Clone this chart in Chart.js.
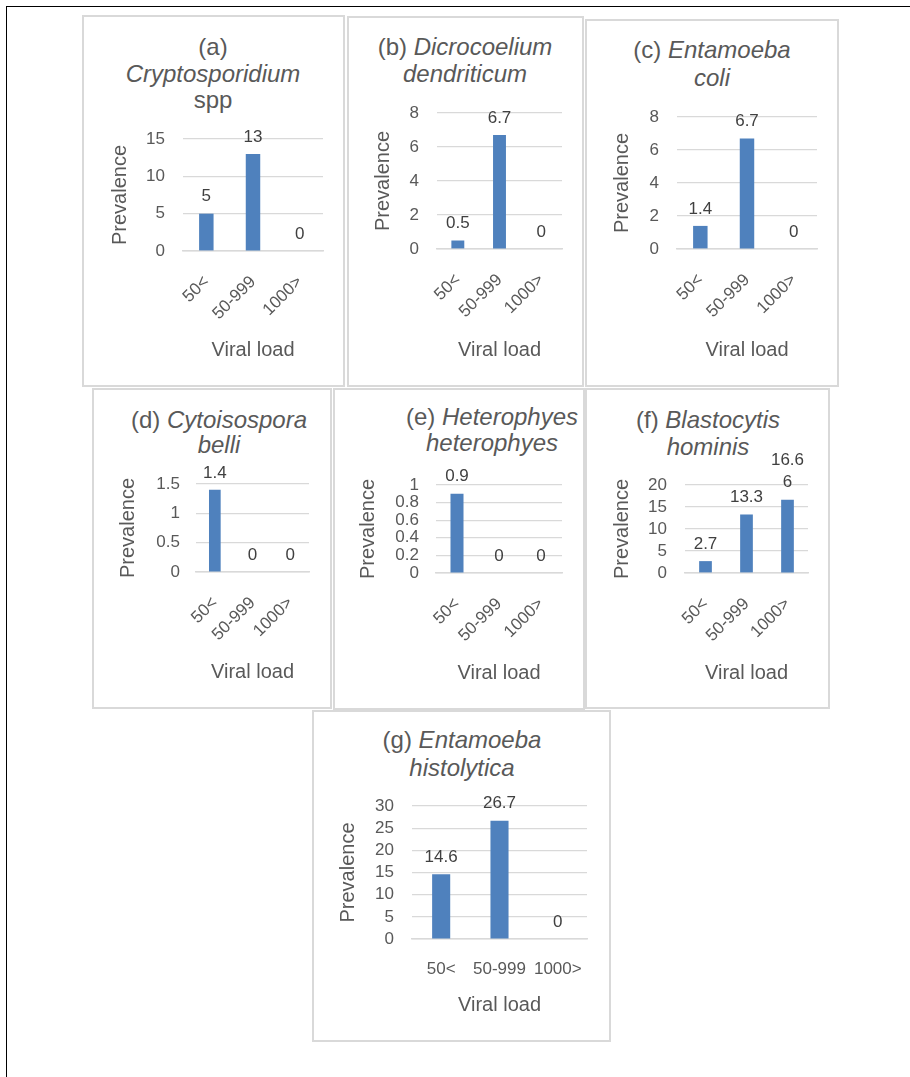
<!DOCTYPE html>
<html><head><meta charset="utf-8">
<script src="https://cdn.jsdelivr.net/npm/chart.js@4"></script>
<style>
html,body{margin:0;padding:0;background:#fff;width:910px;height:1077px;overflow:hidden;font-family:'Liberation Sans',Arial,sans-serif;}
.frame{position:absolute;left:6px;top:6px;width:950px;height:1100px;border-left:1.5px solid #000;border-top:1.5px solid #000;}
.box{position:absolute;border:2px solid #d9d9d9;box-sizing:border-box;}
.t{position:absolute;transform:translate(-50%,-50%);white-space:nowrap;color:#595959;font-size:24px;line-height:1;}
canvas{position:absolute;}
</style></head><body>
<div class="frame"></div>
<script>
// ---- data ----
const categories = ['50<', '50-999', '1000>'];
const cryptosporidiumValues = [5, 13, 0];
const dicrocoeliumValues = [0.5, 6.7, 0];
const entamoebaColiValues = [1.4, 6.7, 0];
const cytoisosporaValues = [1.4, 0, 0];
const heterophyesValues = [0.9, 0, 0];
const blastocystisValues = [2.7, 13.3, 16.66];
const histolyticaValues = [14.6, 26.7, 0];
const yMaxes = [15, 8, 8, 1.5, 1, 20, 30];
const yStepSizes = [5, 2, 2, 0.5, 0.2, 5, 5];
const yAxisTitle = 'Prevalence';
const xAxisTitle = 'Viral load';
const titleLines = [
  [[['(a)', 0]], [['Cryptosporidium', 1]], [['spp', 0]]],
  [[['(b) ', 0], ['Dicrocoelium', 1]], [['dendriticum', 1]]],
  [[['(c) ', 0], ['Entamoeba', 1]], [['coli', 1]]],
  [[['(d) ', 0], ['Cytoisospora', 1]], [['belli', 1]]],
  [[['(e) ', 0], ['Heterophyes', 1]], [['heterophyes', 1]]],
  [[['(f) ', 0], ['Blastocytis', 1]], [['hominis', 1]]],
  [[['(g) ', 0], ['Entamoeba', 1]], [['histolytica', 1]]]
];
const seriesList = [cryptosporidiumValues, dicrocoeliumValues, entamoebaColiValues,
  cytoisosporaValues, heterophyesValues, blastocystisValues, histolyticaValues];

// ---- layout (page pixels) ----
const panels = [
  {box:[82,15,345,387],  plot:[183,139,323,251], tickR:165, yT:120, xT:350, tx:213, ty:[47,74,100], rot:45},
  {box:[347,16,584,387], plot:[437,113,562,249], tickR:419, yT:383, xT:350, tx:465, ty:[47,74], rot:45},
  {box:[585,19,839,387], plot:[677,117,817,249], tickR:659, yT:622, xT:350, tx:712, ty:[50,78], rot:45},
  {box:[92,388,332,709], plot:[196,484,309,572], tickR:180, yT:128, xT:672, tx:219, ty:[420,445], rot:45},
  {box:[333,388,585,710],plot:[436,485,562,573], tickR:419, yT:368, xT:673, tx:492, ty:[417,443], rot:45},
  {box:[585,388,830,709],plot:[685,485,808,573], tickR:667, yT:622, xT:673, tx:708, ty:[420,447], rot:45},
  {box:[312,710,611,1042],plot:[412,806,587,939], tickR:394, yT:348, xT:1005, tx:462, ty:[740,768], rot:0}
];

Chart.defaults.font.family = "'Liberation Sans', Arial, sans-serif";
Chart.defaults.color = '#595959';

const valueLabels = {
  id: 'valueLabels',
  afterDatasetsDraw(chart) {
    const ctx = chart.ctx;
    ctx.save();
    ctx.font = "17px 'Liberation Sans', Arial, sans-serif";
    ctx.fillStyle = '#404040';
    ctx.textAlign = 'center';
    ctx.textBaseline = 'middle';
    chart.data.datasets.forEach((ds, di) => {
      chart.getDatasetMeta(di).data.forEach((bar, i) => {
        const txt = String(ds.data[i]);
        const lines = [];
        let cur = '';
        for (const ch of txt) {
          if (ctx.measureText(cur + ch).width > 38 && cur) { lines.push(cur); cur = ch; }
          else cur += ch;
        }
        lines.push(cur);
        const n = lines.length;
        lines.forEach((l, k) => ctx.fillText(l, bar.x, bar.y - 17 - (n - 1 - k) * 22));
      });
    });
    ctx.restore();
  }
};

panels.forEach((p, idx) => {
  const [bx0, by0, bx1, by1] = p.box;
  const [pl, pt, pr, pb] = p.plot;
  const w = bx1 - bx0, h = by1 - by0;
  const b = document.createElement('div');
  b.className = 'box';
  Object.assign(b.style, {left: bx0 + 'px', top: by0 + 'px', width: w + 'px', height: h + 'px'});
  document.body.appendChild(b);
  titleLines[idx].forEach((line, li) => {
    const d = document.createElement('div');
    d.className = 't';
    d.style.left = p.tx + 'px';
    d.style.top = p.ty[li] + 'px';
    line.forEach(([s, it]) => {
      const sp = document.createElement('span');
      sp.textContent = s;
      if (it) sp.style.fontStyle = 'italic';
      sp.style.whiteSpace = 'pre';
      d.appendChild(sp);
    });
    document.body.appendChild(d);
  });
  const c = document.createElement('canvas');
  c.width = w; c.height = h;
  Object.assign(c.style, {left: bx0 + 'px', top: by0 + 'px', width: w + 'px', height: h + 'px'});
  document.body.appendChild(c);
  new Chart(c, {
    type: 'bar',
    data: {
      labels: categories,
      datasets: [{data: seriesList[idx], backgroundColor: '#4f81bd', barPercentage: 0.31, categoryPercentage: 1}]
    },
    options: {
      responsive: false,
      animation: false,
      devicePixelRatio: 1,
      layout: {padding: {left: 0, top: pt - by0, right: bx1 - pr, bottom: 0}},
      plugins: {legend: {display: false}, tooltip: {enabled: false}},
      scales: {
        x: {
          afterFit: s => { s.height = by1 - pb; },
          grid: {display: false, drawTicks: false},
          border: {display: true, color: '#d9d9d9', width: 1.5},
          ticks: {autoSkip: false, minRotation: p.rot, maxRotation: p.rot, padding: p.rot ? 21 : 20,
                  font: {size: 17}, color: '#595959'},
          title: {display: true, text: xAxisTitle, font: {size: 20}, color: '#595959',
                  padding: {top: 0, bottom: by1 - p.xT - 12}}
        },
        y: {
          min: 0, max: yMaxes[idx],
          afterFit: s => { s.width = pl - bx0; },
          grid: {color: '#d9d9d9', lineWidth: 1.2, drawTicks: false},
          border: {display: false},
          ticks: {stepSize: yStepSizes[idx], autoSkip: false, padding: pl - p.tickR,
                  font: {size: 17}, color: '#595959',
                  callback: v => String(Number(Number(v).toFixed(2)))},
          title: {display: true, text: yAxisTitle, font: {size: 20}, color: '#595959',
                  padding: {top: p.yT - bx0 - 12, bottom: 0}}
        }
      }
    },
    plugins: [valueLabels]
  });
});
</script>
</body></html>
